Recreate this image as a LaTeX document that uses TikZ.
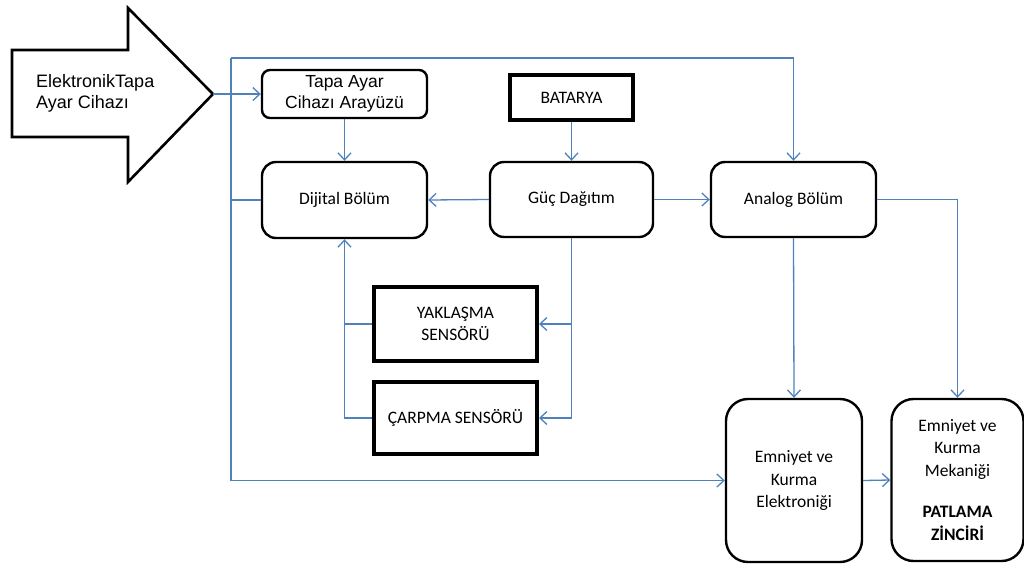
\documentclass[tikz,border=0pt]{standalone}
\usepackage{fontspec}
\setmainfont{Carlito}
\newfontfamily\arialf{Liberation Sans}
\usetikzlibrary{arrows.meta}
\definecolor{lineblue}{RGB}{79,129,189}
\begin{document}
\begin{tikzpicture}[x=1pt,y=-1pt,
  conn/.style={draw=lineblue, line width=1.3pt},
  arr/.style={conn, -{Straight Barb[length=7pt,width=13pt,line width=1.3pt]}},
  txt/.style={font=\fontsize{17.5}{22.5}\selectfont, align=center},
  rbox/.style={txt, draw=black, line width=2.4pt, rounded corners=14pt, inner sep=0pt},
  tbox/.style={txt, draw=black, line width=4pt, inner sep=0pt},
  ]
\useasboundingbox (0,0) rectangle (1024,568);
% big arrow
\draw[line width=2.6pt, line join=miter, fill=white]
  (12,50) -- (128,50) -- (128,8) -- (213,94) -- (128,182) -- (128,137) -- (12,137) -- cycle;
\coordinate (tip) at (213,94);
\node[anchor=west, align=left, inner sep=0pt, font=\arialf\fontsize{18}{21}\selectfont] (eta) at (36,93) {ElektronikTapa\\Ayar Cihazı};
% boxes
\node[rbox, rounded corners=8pt, minimum width=165pt, minimum height=48pt, font=\arialf\fontsize{17.5}{21}\selectfont] (tapa) at (344.5,94) {Tapa Ayar\\Cihazı Arayüzü};
\node[rbox, minimum width=165pt, minimum height=76pt] (dig) at (344.5,200) {Dijital Bölüm};
\node[tbox, minimum width=123pt, minimum height=45pt] (bat) at (571.5,97.5) {BATARYA};
\node[rbox, minimum width=163pt, minimum height=75pt] (guc) at (571.5,199.5) {Güç Dağıtım};
\node[rbox, minimum width=165pt, minimum height=75pt] (ana) at (793.5,199.5) {Analog Bölüm};
\node[tbox, minimum width=163pt, minimum height=74pt] (yak) at (455.5,324) {YAKLAŞMA\\SENSÖRÜ};
\node[tbox, minimum width=163pt, minimum height=72pt] (car) at (455.5,418) {ÇARPMA SENSÖRÜ};
\node[rbox, rounded corners=22pt, minimum width=136pt, minimum height=163pt] (eel) at (794,480.5) {Emniyet ve\\Kurma\\Elektroniği};
\node[rbox, rounded corners=22pt, minimum width=132pt, minimum height=162pt] (mek) at (957.5,480) {Emniyet ve\\Kurma\\Mekaniği\\[19pt]\textbf{PATLAMA}\\\textbf{ZİNCİRİ}};
% frame coordinates
\coordinate (fTL) at (231,58);
\coordinate (fBL) at (231,480.5);
% connectors
\draw[arr] (tip) -- (tapa.west);
\draw[conn] (fTL) -- (fBL);
\draw[arr] (fTL) -| (ana.north);
\draw[arr] (fBL) -- (eel.west);
\draw[conn] (dig.west) -- (fTL |- dig.west);
\draw[arr] (tapa.south) -- (dig.north);
\draw[arr] (bat.south) -- (guc.north);
\draw[arr] (guc.west) -- (dig.east);
\draw[arr] (guc.east) -- (ana.west);
\draw[conn] (guc.south) -- (guc.south |- car.east);
\draw[arr] (guc.south |- yak.east) -- (yak.east);
\draw[arr] (guc.south |- car.east) -- (car.east);
\draw[arr] (car.west) -| (dig.south);
\draw[conn] (yak.west) -- (dig.south |- yak.west);
\draw[arr] (ana.south) -- (eel.north);
\draw[arr] (ana.east) -| (mek.north);
\draw[arr] (eel.east) -- (mek.west);
\end{tikzpicture}
\end{document}
